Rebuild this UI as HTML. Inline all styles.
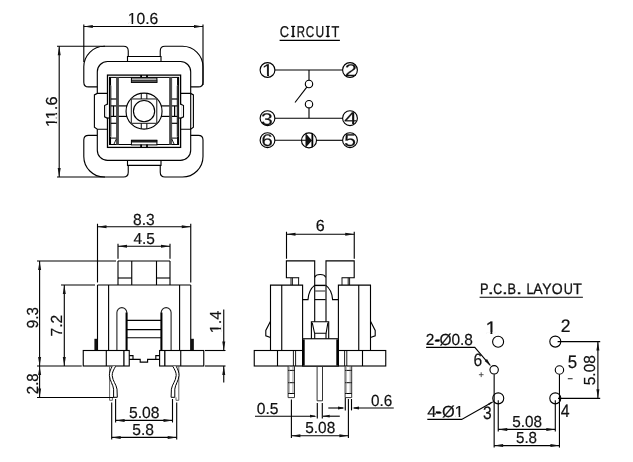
<!DOCTYPE html>
<html><head><meta charset="utf-8"><title>Switch drawing</title>
<style>
html,body{margin:0;padding:0;background:#fff;}
body{width:633px;height:462px;overflow:hidden;font-family:"Liberation Sans",sans-serif;}
svg{display:block;will-change:transform;}
svg text{text-rendering:geometricPrecision;font-family:"Liberation Sans",sans-serif;fill:#111;stroke:#111;stroke-width:0.2px;}
svg text.t{stroke-width:0.3px;}
svg .ah{fill:#111;stroke:none;}
</style></head><body>
<svg width="633" height="462" viewBox="0 0 633 462">
<g stroke="#000" fill="none" stroke-width="1.12" stroke-linecap="butt">
<path d="M97.3,86.9 H88.5 Q83.8,86.9 83.8,82.2 V66.8 A20.5,20.5 0 0 1 104.3,46.3 H123.55 Q128.25,46.3 128.25,51.0 V57.0"/>
<path d="M190.7,86.9 H198.3 Q203.0,86.9 203.0,82.2 V66.8 A20.5,20.5 0 0 0 182.5,46.3 H164.95 Q160.25,46.3 160.25,51.0 V57.0"/>
<path d="M97.3,135.4 H88.5 Q83.8,135.4 83.8,140.1 V156.5 A20.5,20.5 0 0 0 104.3,177.0 H123.55 Q128.25,177.0 128.25,172.3 V164.9"/>
<path d="M190.7,135.4 H198.3 Q203.0,135.4 203.0,140.1 V156.5 A20.5,20.5 0 0 1 182.5,177.0 H164.95 Q160.25,177.0 160.25,172.3 V164.9"/>
<path d="M127.5,61.5 V56.5 H161.0 V61.5"/>
<path d="M127.5,160.4 V165.4 H161.0 V160.4"/>
<path d="M97.3,93.4 V71.7 A10.2,10.2 0 0 1 107.5,61.5 H180.5 A10.2,10.2 0 0 1 190.7,71.7 V150.20000000000002 A10.2,10.2 0 0 1 180.5,160.4 H107.5 A10.2,10.2 0 0 1 97.3,150.20000000000002 V129.2"/>
<path d="M107.5,93.4 H97.3 L94.4,94.9 V127.2 L97.3,129.2 H107.5"/>
<path d="M180.6,93.4 H190.7 L193.4,94.9 V127.2 L190.7,129.2 H180.6"/>
<rect x="107.5" y="75.1" width="73.1" height="72.30000000000001" stroke-width="1.3"/>
<rect x="109.5" y="77.4" width="69.1" height="67.1" stroke-width="1.0"/>
<rect x="116.3" y="77.3" width="2.40" height="67.20" fill="#4a4a4a" stroke="#3a3a3a" stroke-width="0.6"/>
<line x1="110.8" y1="85.5" x2="110.8" y2="136.8" stroke-width="1.0"/>
<line x1="110.1" y1="77.3" x2="110.1" y2="85.6" stroke-width="1.9"/>
<line x1="110.1" y1="144.5" x2="110.1" y2="137.0" stroke-width="1.9"/>
<line x1="110.8" y1="99.0" x2="116.3" y2="99.0" stroke-width="1.2"/>
<line x1="110.8" y1="105.9" x2="116.3" y2="105.9" stroke-width="1.2"/>
<line x1="110.8" y1="116.4" x2="116.3" y2="116.4" stroke-width="1.2"/>
<line x1="110.8" y1="123.3" x2="116.3" y2="123.3" stroke-width="1.2"/>
<line x1="113.5" y1="105.9" x2="113.5" y2="116.4" stroke-width="1.25"/>
<line x1="118.7" y1="105.9" x2="127.0" y2="105.9" stroke-width="1.2"/>
<line x1="118.7" y1="116.4" x2="127.0" y2="116.4" stroke-width="1.2"/>
<rect x="106.6" y="104.7" width="1.90" height="12.90" fill="#fff" stroke="none"/>
<path d="M107.5,104.0 L104.6,105.5 V116.8 L107.5,118.3 L109.5,117.7" stroke-width="1.1"/>
<line x1="109.5" y1="138.1" x2="116.3" y2="138.1" stroke-width="1.0"/>
<line x1="116.3" y1="139.0" x2="113.8" y2="144.5" stroke-width="0.9"/>
<rect x="169.4" y="77.3" width="2.40" height="67.20" fill="#4a4a4a" stroke="#3a3a3a" stroke-width="0.6"/>
<line x1="177.3" y1="85.5" x2="177.3" y2="136.8" stroke-width="1.0"/>
<line x1="178.0" y1="77.3" x2="178.0" y2="85.6" stroke-width="1.9"/>
<line x1="178.0" y1="144.5" x2="178.0" y2="137.0" stroke-width="1.9"/>
<line x1="177.3" y1="99.0" x2="171.8" y2="99.0" stroke-width="1.2"/>
<line x1="177.3" y1="105.9" x2="171.8" y2="105.9" stroke-width="1.2"/>
<line x1="177.3" y1="116.4" x2="171.8" y2="116.4" stroke-width="1.2"/>
<line x1="177.3" y1="123.3" x2="171.8" y2="123.3" stroke-width="1.2"/>
<line x1="174.6" y1="105.9" x2="174.6" y2="116.4" stroke-width="1.25"/>
<line x1="169.4" y1="105.9" x2="161.1" y2="105.9" stroke-width="1.2"/>
<line x1="169.4" y1="116.4" x2="161.1" y2="116.4" stroke-width="1.2"/>
<rect x="179.6" y="104.7" width="1.90" height="12.90" fill="#fff" stroke="none"/>
<path d="M180.6,104.0 L183.5,105.5 V116.8 L180.6,118.3 L178.6,117.7" stroke-width="1.1"/>
<line x1="178.6" y1="138.1" x2="171.8" y2="138.1" stroke-width="1.0"/>
<line x1="171.8" y1="139.0" x2="174.3" y2="144.5" stroke-width="0.9"/>
<rect x="131.4" y="78.0" width="25.5" height="4.5" stroke-width="1.0" fill="#fff"/>
<rect x="131.4" y="80.0" width="25.5" height="2.5" stroke-width="0.6" fill="#555"/>
<rect x="131.4" y="140.3" width="25.5" height="4.6" stroke-width="1.0" fill="#fff"/>
<rect x="131.4" y="140.2" width="25.5" height="1.9" stroke-width="0.6" fill="#2a2a2a"/>
<line x1="141.1" y1="75.1" x2="141.1" y2="77.3" stroke-width="1.8"/>
<line x1="141.1" y1="144.5" x2="141.1" y2="147.4" stroke-width="1.8"/>
<line x1="147.0" y1="75.1" x2="147.0" y2="77.3" stroke-width="1.8"/>
<line x1="147.0" y1="144.5" x2="147.0" y2="147.4" stroke-width="1.8"/>
<circle cx="144.05" cy="111.15" r="18.0"/>
<circle cx="144.05" cy="111.15" r="10.6"/>
<rect x="131.35000000000002" y="98.95" width="25.4" height="24.4" stroke="#3a3a3a" stroke-width="1.2"/>
<line x1="141.25" y1="93.45" x2="141.25" y2="98.95" stroke-width="1.0"/>
<line x1="141.25" y1="123.35000000000001" x2="141.25" y2="128.85" stroke-width="1.0"/>
<line x1="146.85000000000002" y1="93.45" x2="146.85000000000002" y2="98.95" stroke-width="1.0"/>
<line x1="146.85000000000002" y1="123.35000000000001" x2="146.85000000000002" y2="128.85" stroke-width="1.0"/>
<line x1="83.8" y1="24.5" x2="83.8" y2="62"/>
<line x1="203.0" y1="24.5" x2="203.0" y2="85"/>
<line x1="83.8" y1="26.5" x2="203.0" y2="26.5"/>
<polygon class="ah" points="83.80,26.50 92.80,25.00 92.80,28.00"/>
<polygon class="ah" points="203.00,26.50 194.00,28.00 194.00,25.00"/>
<text x="127.75" y="24.20" font-size="16" textLength="30.44" lengthAdjust="spacingAndGlyphs">10.6</text>
<rect x="128.44" y="22.10" width="3.16" height="2.70" fill="#fff" stroke="none"/>
<rect x="133.14" y="22.10" width="3.04" height="2.70" fill="#fff" stroke="none"/>
<line x1="57" y1="46.3" x2="105" y2="46.3"/>
<line x1="57" y1="177.0" x2="105" y2="177.0"/>
<line x1="59.2" y1="46.3" x2="59.2" y2="177.0"/>
<polygon class="ah" points="59.20,46.30 60.70,55.30 57.70,55.30"/>
<polygon class="ah" points="59.20,177.00 57.70,168.00 60.70,168.00"/>
<text x="0" y="0" font-size="16" textLength="30.60" lengthAdjust="spacingAndGlyphs" transform="translate(56.90 127.11) rotate(-90)">11.6</text>
<g transform="translate(56.90 127.11) rotate(-90)"><rect x="0.70" y="-2.10" width="3.18" height="2.70" fill="#fff" stroke="none"/><rect x="5.42" y="-2.10" width="3.05" height="2.70" fill="#fff" stroke="none"/><rect x="9.44" y="-2.10" width="3.18" height="2.70" fill="#fff" stroke="none"/><rect x="14.17" y="-2.10" width="3.05" height="2.70" fill="#fff" stroke="none"/></g>
<text x="279.85" y="36.80" font-size="15.6" textLength="9.24" lengthAdjust="spacingAndGlyphs" class="t">C</text>
<text x="290.72" y="36.80" font-size="15.6" textLength="4.77" lengthAdjust="spacingAndGlyphs" class="t">I</text>
<text x="296.66" y="36.80" font-size="15.6" textLength="8.27" lengthAdjust="spacingAndGlyphs" class="t">R</text>
<text x="305.81" y="36.80" font-size="15.6" textLength="8.44" lengthAdjust="spacingAndGlyphs" class="t">C</text>
<text x="315.58" y="36.80" font-size="15.6" textLength="8.65" lengthAdjust="spacingAndGlyphs" class="t">U</text>
<text x="325.42" y="36.80" font-size="15.6" textLength="4.77" lengthAdjust="spacingAndGlyphs" class="t">I</text>
<text x="331.41" y="36.80" font-size="15.6" textLength="7.78" lengthAdjust="spacingAndGlyphs" class="t">T</text>
<line x1="291.1" y1="26.4" x2="295.1" y2="26.4" stroke-width="1.1"/>
<line x1="291.1" y1="36.3" x2="295.1" y2="36.3" stroke-width="1.1"/>
<line x1="325.8" y1="26.4" x2="329.8" y2="26.4" stroke-width="1.1"/>
<line x1="325.8" y1="36.3" x2="329.8" y2="36.3" stroke-width="1.1"/>
<line x1="279.6" y1="40.4" x2="339.9" y2="40.4" stroke-width="1.1"/>
<text x="262.07" y="76.30" font-size="17" textLength="11.18" lengthAdjust="spacingAndGlyphs">1</text>
<rect x="263.10" y="74.13" width="3.95" height="2.77" fill="#fff" stroke="none"/>
<rect x="268.98" y="74.13" width="3.79" height="2.77" fill="#fff" stroke="none"/>
<circle cx="267.5" cy="70" r="7.4"/>
<circle cx="350" cy="70" r="7.4"/>
<circle cx="267.5" cy="118.2" r="7.4"/>
<circle cx="350" cy="118.2" r="7.4"/>
<circle cx="267.5" cy="140.2" r="7.4"/>
<circle cx="350" cy="140.2" r="7.4"/>
<text x="344.80" y="76.30" font-size="17" textLength="12.21" lengthAdjust="spacingAndGlyphs">2</text>
<text x="261.10" y="124.60" font-size="17" textLength="11.73" lengthAdjust="spacingAndGlyphs">3</text>
<text x="344.28" y="124.40" font-size="17" textLength="12.69" lengthAdjust="spacingAndGlyphs">4</text>
<text x="261.47" y="146.40" font-size="17" textLength="11.33" lengthAdjust="spacingAndGlyphs">6</text>
<text x="344.36" y="146.40" font-size="17" textLength="11.73" lengthAdjust="spacingAndGlyphs">5</text>
<line x1="274.7" y1="70" x2="342.8" y2="70"/>
<line x1="274.7" y1="118.2" x2="342.8" y2="118.2"/>
<line x1="309" y1="70" x2="309" y2="80.3"/>
<circle cx="309" cy="84" r="3.7"/>
<line x1="295" y1="102.5" x2="306.8" y2="87.2"/>
<circle cx="309" cy="104.2" r="3.7"/>
<line x1="309" y1="107.9" x2="309" y2="118.2"/>
<line x1="274.7" y1="140.3" x2="306.2" y2="140.3"/>
<line x1="316.4" y1="140.3" x2="342.8" y2="140.3"/>
<circle cx="309.0" cy="140.4" r="7.5"/>
<polygon class="ah" points="305.5,133.0 305.5,147.8 312.0,140.4"/>
<line x1="312.3" y1="133.6" x2="312.3" y2="147.2" stroke-width="1.7"/>
<line x1="313.6" y1="134.6" x2="313.6" y2="146.2" stroke-width="0.8" stroke="#aaa"/>
<line x1="118" y1="261.0" x2="170" y2="261.0"/>
<line x1="118" y1="261.0" x2="118" y2="285.0"/>
<line x1="131.75" y1="261.0" x2="131.75" y2="285.0"/>
<line x1="118" y1="278" x2="131.75" y2="278"/>
<line x1="156.5" y1="261.0" x2="156.5" y2="285.0"/>
<line x1="170" y1="261.0" x2="170" y2="285.0"/>
<line x1="156.5" y1="278" x2="170" y2="278"/>
<line x1="97.5" y1="285.0" x2="190.75" y2="285.0"/>
<line x1="97.5" y1="285.0" x2="97.5" y2="350.5"/>
<line x1="108.6" y1="285.0" x2="108.6" y2="350.5"/>
<line x1="179.6" y1="285.0" x2="179.6" y2="350.5"/>
<line x1="190.75" y1="285.0" x2="190.75" y2="350.5"/>
<rect x="94.4" y="338.8" width="3.1" height="11.5" stroke-width="0" fill="#111"/>
<rect x="190.75" y="338.8" width="3.1" height="11.5" stroke-width="0" fill="#111"/>
<path d="M116.9,350.5 V312.55 A4.949999999999996,4.949999999999996 0 0 1 126.8,312.55 V350.5" stroke-width="1.1" stroke="#222"/>
<line x1="126.5" y1="312.55" x2="126.5" y2="350.5" stroke-width="1.9"/>
<path d="M161.2,350.5 V312.55 A4.950000000000003,4.950000000000003 0 0 1 171.1,312.55 V350.5" stroke-width="1.1" stroke="#222"/>
<line x1="161.5" y1="312.55" x2="161.5" y2="350.5" stroke-width="1.9"/>
<line x1="126.8" y1="320.4" x2="161.2" y2="320.4"/>
<line x1="126.8" y1="329.6" x2="161.2" y2="329.6"/>
<line x1="126.8" y1="337.8" x2="161.2" y2="337.8"/>
<rect x="83.25" y="350.5" width="46.0" height="15.5"/>
<line x1="106.3" y1="350.5" x2="106.3" y2="366.0"/>
<line x1="123.9" y1="350.5" x2="123.9" y2="366.0" stroke-width="1.3"/>
<rect x="159.6" y="350.5" width="44.15" height="15.5"/>
<line x1="164.8" y1="350.5" x2="164.8" y2="366.0" stroke-width="1.3"/>
<line x1="180.75" y1="350.5" x2="180.75" y2="366.0"/>
<path d="M129.25,355.6 H133 V359.4 H129.25 M133,359.4 H140.2 V362.1 H147.6 V359.4 H155.8 M159.6,355.6 H155.8 V359.4 H159.6"/>
<path d="M109.6,366.3 V400.3 H112.4 V397.3" stroke-width="0.9" stroke="#555"/>
<line x1="112.2" y1="376" x2="112.2" y2="385" stroke-width="0.8" stroke="#888"/>
<path d="M112.2,366.3 C110.5,369.5 109.2,372.5 109.4,375.6 C109.8,381 113.2,384.5 113.6,389.2 V397.3 H117.3 L117.0,389.2 C116.4,384.5 112.6,381 112.2,375.6 C112.0,372.5 113.8,369.5 115.6,366.3" stroke-width="1.0" fill="#fff"/>
<path d="M178.8,366.3 V400.3 H176.0 V397.3" stroke-width="0.9" stroke="#555"/>
<line x1="176.2" y1="376" x2="176.2" y2="385" stroke-width="0.8" stroke="#888"/>
<path d="M176.2,366.3 C177.9,369.5 179.2,372.5 179.0,375.6 C178.6,381 175.2,384.5 174.8,389.2 V397.3 H171.1 L171.4,389.2 C172.0,384.5 175.8,381 176.2,375.6 C176.4,372.5 174.6,369.5 172.8,366.3" stroke-width="1.0" fill="#fff"/>
<line x1="97.5" y1="223.75" x2="97.5" y2="282.5"/>
<line x1="190.75" y1="223.75" x2="190.75" y2="282.5"/>
<line x1="97.5" y1="226.75" x2="190.75" y2="226.75"/>
<polygon class="ah" points="97.50,226.75 106.50,225.25 106.50,228.25"/>
<polygon class="ah" points="190.75,226.75 181.75,228.25 181.75,225.25"/>
<text x="133.12" y="224.60" font-size="16" textLength="21.66" lengthAdjust="spacingAndGlyphs">8.3</text>
<line x1="118" y1="243.75" x2="118" y2="258.75"/>
<line x1="170" y1="243.75" x2="170" y2="258.75"/>
<line x1="118" y1="246.25" x2="170" y2="246.25"/>
<polygon class="ah" points="118.00,246.25 127.00,244.75 127.00,247.75"/>
<polygon class="ah" points="170.00,246.25 161.00,247.75 161.00,244.75"/>
<text x="133.44" y="244.20" font-size="16" textLength="21.50" lengthAdjust="spacingAndGlyphs">4.5</text>
<line x1="37" y1="261.0" x2="116" y2="261.0"/>
<line x1="61" y1="285.0" x2="95" y2="285.0"/>
<line x1="37" y1="366.0" x2="81.75" y2="366.0"/>
<line x1="39.6" y1="261.0" x2="39.6" y2="366.0"/>
<polygon class="ah" points="39.60,261.00 41.10,270.00 38.10,270.00"/>
<polygon class="ah" points="39.60,366.00 38.10,357.00 41.10,357.00"/>
<line x1="64.3" y1="285.0" x2="64.3" y2="366.0"/>
<polygon class="ah" points="64.30,285.00 65.80,294.00 62.80,294.00"/>
<polygon class="ah" points="64.30,366.00 62.80,357.00 65.80,357.00"/>
<text x="0" y="0" font-size="16" textLength="21.08" lengthAdjust="spacingAndGlyphs" transform="translate(37.80 328.21) rotate(-90)">9.3</text>
<text x="0" y="0" font-size="16" textLength="21.58" lengthAdjust="spacingAndGlyphs" transform="translate(62.30 336.40) rotate(-90)">7.2</text>
<line x1="37" y1="397.5" x2="113.75" y2="397.5"/>
<line x1="39.6" y1="366.0" x2="39.6" y2="397.5"/>
<polygon class="ah" points="39.60,366.00 41.10,375.00 38.10,375.00"/>
<polygon class="ah" points="39.60,397.50 38.10,388.50 41.10,388.50"/>
<text x="0" y="0" font-size="16" textLength="20.80" lengthAdjust="spacingAndGlyphs" transform="translate(37.80 394.15) rotate(-90)">2.8</text>
<line x1="205" y1="350.5" x2="225.5" y2="350.5"/>
<line x1="205" y1="366.0" x2="225.5" y2="366.0"/>
<line x1="223.75" y1="309.5" x2="223.75" y2="350.5"/>
<polygon class="ah" points="223.75,350.50 222.25,341.50 225.25,341.50"/>
<line x1="223.75" y1="366.0" x2="223.75" y2="382.5"/>
<polygon class="ah" points="223.75,366.00 225.25,375.00 222.25,375.00"/>
<text x="0" y="0" font-size="16" textLength="22.64" lengthAdjust="spacingAndGlyphs" transform="translate(220.70 333.37) rotate(-90)">1.4</text>
<g transform="translate(220.70 333.37) rotate(-90)"><rect x="0.74" y="-2.10" width="3.28" height="2.70" fill="#fff" stroke="none"/><rect x="5.62" y="-2.10" width="3.15" height="2.70" fill="#fff" stroke="none"/></g>
<line x1="115.6" y1="399" x2="115.6" y2="422.5"/>
<line x1="172.5" y1="399" x2="172.5" y2="422.5"/>
<line x1="115.6" y1="420.4" x2="172.5" y2="420.4"/>
<polygon class="ah" points="115.60,420.40 124.60,418.90 124.60,421.90"/>
<polygon class="ah" points="172.50,420.40 163.50,421.90 163.50,418.90"/>
<text x="129.02" y="417.70" font-size="16" textLength="30.51" lengthAdjust="spacingAndGlyphs">5.08</text>
<line x1="111.7" y1="402.5" x2="111.7" y2="439.5"/>
<line x1="176.7" y1="402.5" x2="176.7" y2="439.5"/>
<line x1="111.7" y1="437.4" x2="176.7" y2="437.4"/>
<polygon class="ah" points="111.70,437.40 120.70,435.90 120.70,438.90"/>
<polygon class="ah" points="176.70,437.40 167.70,438.90 167.70,435.90"/>
<text x="132.27" y="435.10" font-size="16" textLength="21.76" lengthAdjust="spacingAndGlyphs">5.8</text>
<path d="M314.7,321.7 V260.9 H286.4 V277.8 H299.2"/>
<path d="M326.0,321.7 V260.9 H354.2 V277.8 H341.6"/>
<path d="M291,277.8 V285.1 M292.4,277.8 V285.1 M298.6,277.8 V285.1" stroke-width="0.9"/>
<path d="M349.6,277.8 V285.1 M348.2,277.8 V285.1 M342,277.8 V285.1" stroke-width="0.9"/>
<path d="M270.5,350.5 V285.1 H302.6 V299.6 H308 C308.4,293 311,288 314.8,285.1"/>
<path d="M370.5,350.5 V285.1 H338.4 V299.6 H332.6 C332.2,293 329.6,288 325.6,285.1"/>
<line x1="281.75" y1="285.1" x2="281.75" y2="350.5"/>
<line x1="358.75" y1="285.1" x2="358.75" y2="350.5"/>
<line x1="302.6" y1="299.6" x2="302.6" y2="338.75"/>
<line x1="338.4" y1="299.6" x2="338.4" y2="338.75"/>
<path d="M314.8,277.4 C316,273.6 324.4,273.6 325.6,277.4"/>
<line x1="314.8" y1="285.4" x2="325.6" y2="285.4" stroke-width="1.4"/>
<line x1="314.8" y1="291" x2="325.6" y2="291" stroke-width="1.3" stroke="#555"/>
<line x1="314.8" y1="299.6" x2="325.6" y2="299.6"/>
<path d="M311.4,339 V321.7 H328.7 V339"/>
<path d="M312.2,322.6 L314.6,333.3 H326.1 L327.9,322.6" stroke-width="1.1"/>
<line x1="314.7" y1="333.3" x2="314.7" y2="338.75"/>
<line x1="326.0" y1="333.3" x2="326.0" y2="338.75"/>
<path d="M270.5,321.25 L265.8,330.5 V335.75 L270.5,337.5"/>
<path d="M370.5,321.25 L375.2,330.5 V335.75 L370.5,337.5"/>
<rect x="254.25" y="350.5" width="131.5" height="15.5"/>
<line x1="277.5" y1="350.5" x2="277.5" y2="366.0"/>
<line x1="362.5" y1="350.5" x2="362.5" y2="366.0"/>
<line x1="293.4" y1="350.5" x2="293.4" y2="366.0" stroke-width="0.9"/>
<line x1="295.6" y1="350.5" x2="295.6" y2="366.0" stroke-width="0.9"/>
<line x1="344.6" y1="350.5" x2="344.6" y2="366.0" stroke-width="0.9"/>
<line x1="346.8" y1="350.5" x2="346.8" y2="366.0" stroke-width="0.9"/>
<rect x="302.6" y="338.75" width="35.8" height="27.25" fill="#fff"/>
<line x1="303.5" y1="339.4" x2="303.5" y2="365.6" stroke-width="2.4"/>
<line x1="337.5" y1="339.4" x2="337.5" y2="365.6" stroke-width="2.4"/>
<path d="M288.1,366.0 V397.6 H294.5 V366.0" stroke-width="1.0" stroke="#333"/>
<line x1="288.1" y1="370.4" x2="294.5" y2="370.4" stroke-width="1.0"/>
<line x1="288.1" y1="382.7" x2="294.5" y2="382.7" stroke-width="1.0"/>
<line x1="288.1" y1="393.5" x2="294.5" y2="393.5" stroke-width="1.0"/>
<line x1="293.0" y1="366.0" x2="293.0" y2="393.5" stroke-width="0.7" stroke="#666"/>
<line x1="289.3" y1="366.0" x2="289.3" y2="393.5" stroke-width="0.7" stroke="#888"/>
<path d="M345.1,366.0 V397.6 H351.7 V366.0" stroke-width="1.0" stroke="#333"/>
<line x1="345.1" y1="370.4" x2="351.7" y2="370.4" stroke-width="1.0"/>
<line x1="345.1" y1="382.7" x2="351.7" y2="382.7" stroke-width="1.0"/>
<line x1="345.1" y1="393.5" x2="351.7" y2="393.5" stroke-width="1.0"/>
<line x1="350.2" y1="366.0" x2="350.2" y2="393.5" stroke-width="0.7" stroke="#666"/>
<line x1="346.3" y1="366.0" x2="346.3" y2="393.5" stroke-width="0.7" stroke="#888"/>
<path d="M317.1,366.0 V400.8 H322.5 V366.0" stroke-width="1.0" stroke="#333"/>
<line x1="286.5" y1="231.75" x2="286.5" y2="258.75"/>
<line x1="354.25" y1="231.75" x2="354.25" y2="258.75"/>
<line x1="286.5" y1="234.25" x2="354.25" y2="234.25"/>
<polygon class="ah" points="286.50,234.25 295.50,232.75 295.50,235.75"/>
<polygon class="ah" points="354.25,234.25 345.25,235.75 345.25,232.75"/>
<text x="315.83" y="231.40" font-size="16" textLength="8.98" lengthAdjust="spacingAndGlyphs">6</text>
<line x1="255" y1="416.2" x2="315.0" y2="416.2"/>
<polygon class="ah" points="317.00,416.20 310.00,417.60 310.00,414.80"/>
<line x1="323" y1="416.2" x2="339.8" y2="416.2"/>
<polygon class="ah" points="322.70,416.20 329.70,414.80 329.70,417.60"/>
<line x1="317.3" y1="402.9" x2="317.3" y2="418.4"/>
<line x1="322.3" y1="402.9" x2="322.3" y2="418.4"/>
<text x="256.79" y="413.50" font-size="16" textLength="21.72" lengthAdjust="spacingAndGlyphs">0.5</text>
<line x1="328.3" y1="408" x2="343" y2="408"/>
<polygon class="ah" points="345.00,408.00 338.00,409.40 338.00,406.60"/>
<line x1="354" y1="408" x2="393.75" y2="408"/>
<polygon class="ah" points="352.00,408.00 359.00,406.60 359.00,409.40"/>
<line x1="345.3" y1="397.7" x2="345.3" y2="410.4"/>
<line x1="351.5" y1="399" x2="351.5" y2="410.4"/>
<text x="371.05" y="405.70" font-size="16" textLength="21.22" lengthAdjust="spacingAndGlyphs">0.6</text>
<line x1="291.4" y1="399.6" x2="291.4" y2="438"/>
<line x1="348.4" y1="399" x2="348.4" y2="438"/>
<line x1="291.4" y1="435.75" x2="348.4" y2="435.75"/>
<polygon class="ah" points="291.40,435.75 300.40,434.25 300.40,437.25"/>
<polygon class="ah" points="348.40,435.75 339.40,437.25 339.40,434.25"/>
<text x="305.28" y="433.20" font-size="16" textLength="29.99" lengthAdjust="spacingAndGlyphs">5.08</text>
<text x="480.05" y="293.70" font-size="15.2" textLength="8.52" lengthAdjust="spacingAndGlyphs" class="t">P</text>
<text x="487.79" y="293.70" font-size="15.2" textLength="6.13" lengthAdjust="spacingAndGlyphs" class="t">.</text>
<text x="493.27" y="293.70" font-size="15.2" textLength="8.89" lengthAdjust="spacingAndGlyphs" class="t">C</text>
<text x="501.98" y="293.70" font-size="15.2" textLength="5.84" lengthAdjust="spacingAndGlyphs" class="t">.</text>
<text x="507.55" y="293.70" font-size="15.2" textLength="8.52" lengthAdjust="spacingAndGlyphs" class="t">B</text>
<text x="515.99" y="293.70" font-size="15.2" textLength="6.13" lengthAdjust="spacingAndGlyphs" class="t">.</text>
<text x="526.56" y="293.70" font-size="15.2" textLength="7.06" lengthAdjust="spacingAndGlyphs" class="t">L</text>
<text x="533.17" y="293.70" font-size="15.2" textLength="9.35" lengthAdjust="spacingAndGlyphs" class="t">A</text>
<text x="542.19" y="293.70" font-size="15.2" textLength="9.31" lengthAdjust="spacingAndGlyphs" class="t">Y</text>
<text x="551.83" y="293.70" font-size="15.2" textLength="10.94" lengthAdjust="spacingAndGlyphs" class="t">O</text>
<text x="563.82" y="293.70" font-size="15.2" textLength="9.16" lengthAdjust="spacingAndGlyphs" class="t">U</text>
<text x="572.97" y="293.70" font-size="15.2" textLength="8.86" lengthAdjust="spacingAndGlyphs" class="t">T</text>
<line x1="479.6" y1="297.3" x2="582.9" y2="297.3" stroke-width="1.1"/>
<circle cx="498.1" cy="341.7" r="5.5"/>
<circle cx="555.3" cy="341.6" r="5.5"/>
<circle cx="498.25" cy="398.35" r="5.5"/>
<circle cx="555.3" cy="398.35" r="5.5"/>
<circle cx="494.15" cy="369.8" r="4.2"/>
<circle cx="559.45" cy="370.0" r="4.2"/>
<text x="485.47" y="334.30" font-size="18" textLength="11.18" lengthAdjust="spacingAndGlyphs">1</text>
<rect x="486.50" y="332.06" width="3.95" height="2.84" fill="#fff" stroke="none"/>
<rect x="492.38" y="332.06" width="3.79" height="2.84" fill="#fff" stroke="none"/>
<text x="560.72" y="331.80" font-size="18" textLength="9.77" lengthAdjust="spacingAndGlyphs">2</text>
<text x="473.41" y="366.30" font-size="18" textLength="8.68" lengthAdjust="spacingAndGlyphs">6</text>
<text x="567.72" y="368.40" font-size="18" textLength="9.38" lengthAdjust="spacingAndGlyphs">5</text>
<text x="483.11" y="418.70" font-size="18" textLength="8.68" lengthAdjust="spacingAndGlyphs">3</text>
<text x="560.64" y="417.40" font-size="18" textLength="8.83" lengthAdjust="spacingAndGlyphs">4</text>
<line x1="478.9" y1="374.7" x2="483.6" y2="374.7" stroke-width="0.9" stroke="#444"/>
<line x1="481.2" y1="372.3" x2="481.2" y2="377.1" stroke-width="0.9" stroke="#444"/>
<line x1="567.8" y1="378.7" x2="572.6" y2="378.7" stroke-width="1.1" stroke="#333"/>
<text x="425.72" y="344.70" font-size="16" textLength="47.25" lengthAdjust="spacingAndGlyphs">2-&#216;0.8</text>
<line x1="435.6" y1="340.4" x2="439.7" y2="340.4" stroke-width="2.0"/>
<path d="M426.1,347.4 H474.8 L490.0,365.2"/>
<polygon class="ah" points="491.00,366.20 484.71,361.04 487.01,359.11"/>
<text x="427.32" y="416.90" font-size="16" textLength="36.42" lengthAdjust="spacingAndGlyphs">4-&#216;1</text>
<rect x="455.38" y="414.80" width="3.29" height="2.70" fill="#fff" stroke="none"/>
<rect x="460.28" y="414.80" width="3.16" height="2.70" fill="#fff" stroke="none"/>
<line x1="435.8" y1="412.4" x2="440.4" y2="412.4" stroke-width="2.0"/>
<path d="M427.3,419.4 H461.7 L492.6,401.9"/>
<polygon class="ah" points="493.20,401.60 489.34,404.93 488.36,403.19"/>
<line x1="494.15" y1="374.2" x2="494.15" y2="447.6"/>
<line x1="559.45" y1="374.4" x2="559.45" y2="447.6"/>
<line x1="498.25" y1="400.2" x2="498.25" y2="431.4"/>
<line x1="555.3" y1="400.2" x2="555.3" y2="431.4"/>
<line x1="498.25" y1="429.4" x2="555.3" y2="429.4"/>
<polygon class="ah" points="498.25,429.40 507.25,427.90 507.25,430.90"/>
<polygon class="ah" points="555.30,429.40 546.30,430.90 546.30,427.90"/>
<line x1="494.15" y1="445.6" x2="559.45" y2="445.6"/>
<polygon class="ah" points="494.15,445.60 503.15,444.10 503.15,447.10"/>
<polygon class="ah" points="559.45,445.60 550.45,447.10 550.45,444.10"/>
<text x="512.19" y="426.90" font-size="16" textLength="29.78" lengthAdjust="spacingAndGlyphs">5.08</text>
<text x="515.99" y="443.10" font-size="16" textLength="21.07" lengthAdjust="spacingAndGlyphs">5.8</text>
<line x1="557.6" y1="341.6" x2="600.2" y2="341.6"/>
<line x1="558.0" y1="398.35" x2="600.2" y2="398.35"/>
<line x1="597.9" y1="341.6" x2="597.9" y2="398.35"/>
<polygon class="ah" points="597.90,341.60 599.40,350.60 596.40,350.60"/>
<polygon class="ah" points="597.90,398.35 596.40,389.35 599.40,389.35"/>
<text x="0" y="0" font-size="16" textLength="29.99" lengthAdjust="spacingAndGlyphs" transform="translate(594.70 385.22) rotate(-90)">5.08</text>
</g>
</svg>
</body></html>
